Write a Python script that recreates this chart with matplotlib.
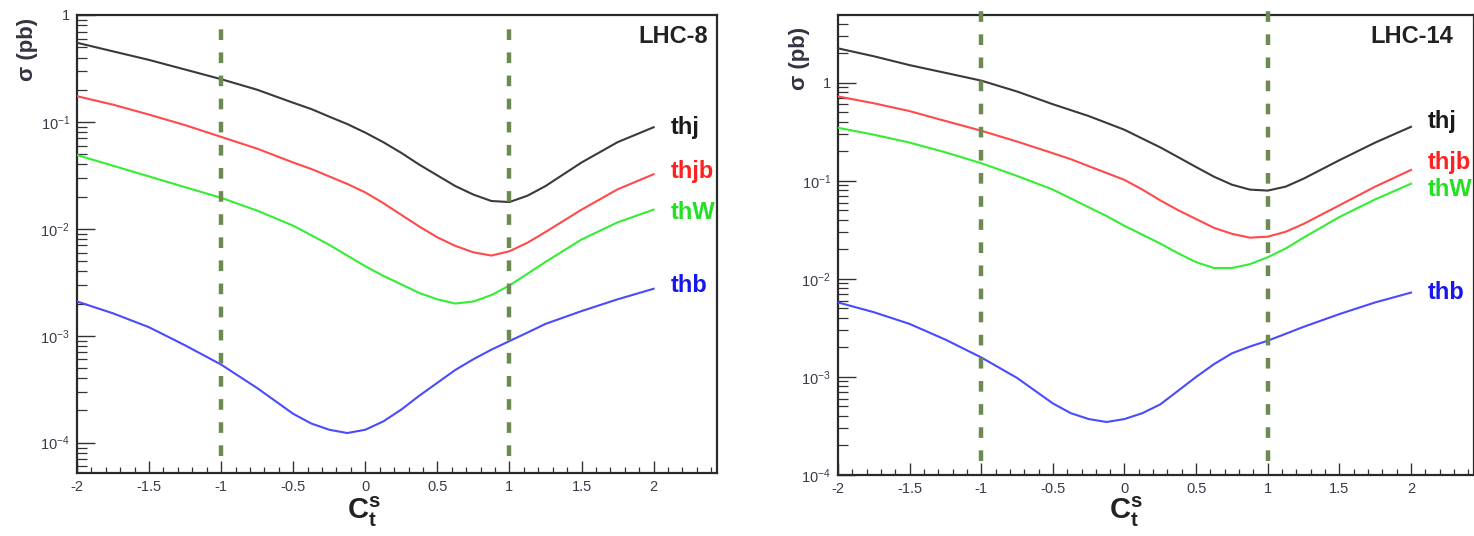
import numpy as np
import matplotlib
matplotlib.use("Agg")
import matplotlib.pyplot as plt
from matplotlib.ticker import LogLocator, MultipleLocator, FixedLocator, NullFormatter

matplotlib.rcParams["font.family"] = ["Liberation Sans", "DejaVu Sans"]
matplotlib.rcParams["mathtext.fontset"] = "custom"
matplotlib.rcParams["mathtext.rm"] = "Liberation Sans"
matplotlib.rcParams["mathtext.bf"] = "Liberation Sans:bold"
matplotlib.rcParams["mathtext.it"] = "Liberation Sans:italic"

# C_t^s scan points
cts = [-2, -1.75, -1.5, -1.25, -1, -0.75, -0.5, -0.375, -0.25, -0.125, 0, 0.125,
       0.25, 0.375, 0.5, 0.625, 0.75, 0.875, 1, 1.125, 1.25, 1.5, 1.75, 2]

# LHC-8 cross sections (pb)
lhc8_thj = [0.550, 0.457, 0.380, 0.309, 0.251, 0.200, 0.151, 0.132, 0.112, 0.0955, 0.0794, 0.0646,
            0.0513, 0.0398, 0.0316, 0.0251, 0.0209, 0.0182, 0.0178, 0.0204, 0.0251, 0.0417, 0.0646, 0.0891]
lhc8_thjb = [0.174, 0.145, 0.117, 0.0933, 0.0724, 0.0562, 0.0417, 0.0363, 0.0309, 0.0263, 0.0219, 0.0174,
             0.0135, 0.0105, 0.00832, 0.00692, 0.00603, 0.00562, 0.00617, 0.00741, 0.00933, 0.0151, 0.0234, 0.0324]
lhc8_thw = [0.0490, 0.0389, 0.0309, 0.0245, 0.0195, 0.0148, 0.0107, 0.00871, 0.00708, 0.00562, 0.00447, 0.00363,
            0.00302, 0.00251, 0.00219, 0.00200, 0.00209, 0.00240, 0.00295, 0.00380, 0.00490, 0.00794, 0.0115, 0.0151]
lhc8_thb = [0.00209, 0.00162, 0.00120, 0.000813, 0.000537, 0.000324, 0.000186, 0.000151, 0.000132, 0.000123,
            0.000132, 0.000158, 0.000204, 0.000275, 0.000363, 0.000479, 0.000603, 0.000741, 0.000891, 0.00107,
            0.00129, 0.00170, 0.00219, 0.00275]

# LHC-14 cross sections (pb)
lhc14_thj = [2.24, 1.86, 1.51, 1.26, 1.05, 0.813, 0.603, 0.525, 0.457, 0.389, 0.331, 0.269,
             0.219, 0.174, 0.138, 0.110, 0.0912, 0.0813, 0.0794, 0.0871, 0.105, 0.162, 0.245, 0.355]
lhc14_thjb = [0.724, 0.617, 0.513, 0.407, 0.324, 0.251, 0.191, 0.166, 0.141, 0.120, 0.102, 0.0813,
              0.0631, 0.0501, 0.0407, 0.0331, 0.0288, 0.0263, 0.0269, 0.0302, 0.0363, 0.0562, 0.0871, 0.129]
lhc14_thw = [0.347, 0.295, 0.245, 0.195, 0.151, 0.112, 0.0813, 0.0661, 0.0537, 0.0437, 0.0347, 0.0282,
             0.0229, 0.0182, 0.0148, 0.0129, 0.0129, 0.0141, 0.0166, 0.0204, 0.0263, 0.0427, 0.0646, 0.0933]
lhc14_thb = [0.00575, 0.00457, 0.00347, 0.00240, 0.00158, 0.000977, 0.000537, 0.000427, 0.000372, 0.000347,
             0.000372, 0.000427, 0.000525, 0.000724, 0.00100, 0.00135, 0.00174, 0.00204, 0.00234, 0.00275,
             0.00324, 0.00437, 0.00575, 0.00724]

names = ["thj", "thjb", "thW", "thb"]
line_colors = ["#3a3a3a", "#ff4a4a", "#33ee33", "#4a4aff"]
text_colors = ["#1a1a1a", "#ff2020", "#22e022", "#1818ee"]
vlines_x = [-1, 1]

fig = plt.figure(figsize=(14.74, 5.36), dpi=100)
W, H = 1474, 536


def px_axes(x0, y0, x1, y1):
    return fig.add_axes([x0 / W, 1 - y1 / H, (x1 - x0) / W, (y1 - y0) / H])


def style_axes(ax, ylim, yticks, ylabels):
    ax.set_yscale("log")
    ax.set_xlim(-2, 2.44)
    ax.set_ylim(*ylim)
    for s in ax.spines.values():
        s.set_linewidth(1.6)
        s.set_color("#2a2a2a")
    ax.xaxis.set_major_locator(MultipleLocator(0.5))
    ax.xaxis.set_minor_locator(MultipleLocator(0.1))
    ax.yaxis.set_major_locator(FixedLocator(yticks))
    ax.yaxis.set_minor_locator(LogLocator(base=10, subs=np.arange(2, 10), numticks=20))
    ax.yaxis.set_minor_formatter(NullFormatter())
    ax.set_yticklabels(ylabels)
    ax.set_xticks([-2, -1.5, -1, -0.5, 0, 0.5, 1, 1.5, 2])
    ax.set_xticklabels(["-2", "-1.5", "-1", "-0.5", "0", "0.5", "1", "1.5", "2"])
    ax.tick_params(which="both", direction="in", top=False, right=False,
                   colors="#333333", labelcolor="#3a3a4a", labelsize=10.5)
    ax.tick_params(axis="y", which="major", length=13, width=1.0, pad=5)
    ax.tick_params(axis="y", which="minor", length=7, width=0.9)
    ax.tick_params(axis="x", which="major", length=8.5, width=1.0, pad=5)
    ax.tick_params(axis="x", which="minor", length=4.5, width=0.9)


panels = [
    dict(box=(77, 15, 717, 473), ylim=(5.2e-5, 1.0), title="LHC-8", tx=0.986,
         yticks=[1e-4, 1e-3, 1e-2, 1e-1, 1],
         ylabels=[r"$10^{-4}$", r"$10^{-3}$", r"$10^{-2}$", r"$10^{-1}$", "1"],
         series=[lhc8_thj, lhc8_thjb, lhc8_thw, lhc8_thb],
         label_y=[0.089, 0.034, 0.0141, 0.00295],
         vrange=(7.5e-5, 0.88), ylab_x=28, ylab_y=18, xlab_x=364),
    dict(box=(838, 15, 1474, 475), ylim=(1e-4, 4.9), title="LHC-14", tx=0.967,
         yticks=[1e-4, 1e-3, 1e-2, 1e-1, 1],
         ylabels=[r"$10^{-4}$", r"$10^{-3}$", r"$10^{-2}$", r"$10^{-1}$", "1"],
         series=[lhc14_thj, lhc14_thjb, lhc14_thw, lhc14_thb],
         label_y=[0.40, 0.155, 0.081, 0.0072],
         vrange=(1.4e-4, 6.2), ylab_x=800, ylab_y=27, xlab_x=1126),
]

for p in panels:
    ax = px_axes(*p["box"])
    style_axes(ax, p["ylim"], p["yticks"], p["ylabels"])
    for vals, name, lc, tc, ly in zip(p["series"], names, line_colors, text_colors, p["label_y"]):
        ax.plot(cts, vals, color=lc, lw=1.5, zorder=3)
        ax.text(2.12, ly, name, color=tc, fontsize=17, fontweight="bold",
                ha="left", va="center", clip_on=False)
    for xv in vlines_x:
        ax.plot([xv, xv], p["vrange"], color="#6d8a52", lw=3.2,
                linestyle=(0, (2.4, 2.8)), clip_on=False, zorder=4)
    ax.text(p["tx"], 0.978, p["title"], transform=ax.transAxes, ha="right", va="top",
            fontsize=17, fontweight="bold", color="#222222")
    fig.text(p["ylab_x"] / W, 1 - p["ylab_y"] / H, "σ (pb)", rotation=90,
             ha="center", va="top", fontsize=16, fontweight="bold", color="#333344")
    fig.text(p["xlab_x"] / W, 1 - 512 / H, r"$\mathbf{C}_{\mathbf{t}}^{\mathbf{s}}$",
             ha="center", va="center", fontsize=21, color="#222222")

fig.savefig("out.png", dpi=100)
